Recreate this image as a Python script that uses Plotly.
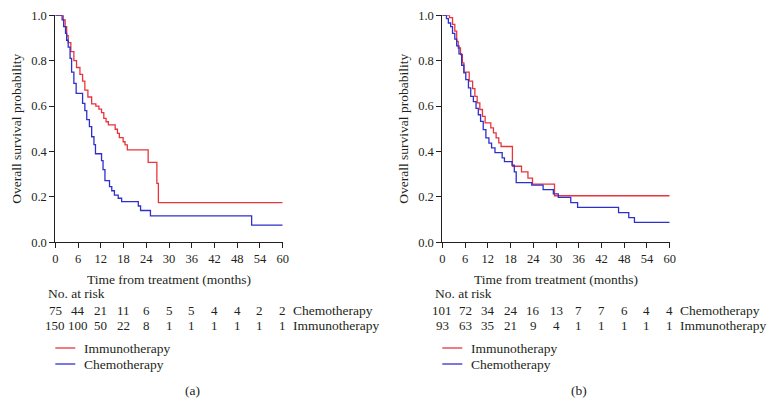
import plotly.graph_objects as go

# ---------------- data ----------------
months_ticks = [0, 6, 12, 18, 24, 30, 36, 42, 48, 54, 60]
surv_ticks = [0.0, 0.2, 0.4, 0.6, 0.8, 1.0]

# Panel (a)
a_immuno_t = [0, 2.1, 2.6, 3.0, 3.4, 4.1, 4.9, 5.6, 6.5, 7.2, 7.8, 8.6, 9.6, 10.7, 11.5, 12.2, 12.8, 13.4,
              14.0, 15.8, 16.4, 16.9, 17.9, 18.4, 19.0, 24.5, 26.8, 27.2, 60]
a_immuno_s = [1.0, 0.98, 0.95, 0.91, 0.88, 0.84, 0.80, 0.77, 0.74, 0.71, 0.67, 0.64, 0.61, 0.60, 0.587, 0.571,
              0.546, 0.531, 0.517, 0.498, 0.48, 0.461, 0.443, 0.429, 0.407, 0.352, 0.26, 0.175, 0.175]
a_chemo_t = [0, 1.8, 2.2, 2.7, 3.0, 3.4, 3.9, 4.3, 4.9, 5.5, 7.2, 7.8, 8.3, 9.0, 9.6, 10.2, 10.6, 12.2, 12.6,
             13.1, 14.3, 14.9, 15.6, 16.6, 17.5, 21.9, 22.5, 25.1, 51.8, 60]
a_chemo_s = [1.0, 0.98, 0.95, 0.92, 0.89, 0.86, 0.81, 0.75, 0.70, 0.656, 0.612, 0.58, 0.54, 0.51, 0.465, 0.43,
             0.39, 0.36, 0.32, 0.272, 0.245, 0.227, 0.208, 0.194, 0.179, 0.16, 0.14, 0.116, 0.076, 0.076]
a_risk_chemo = [75, 44, 21, 11, 6, 5, 5, 4, 4, 2, 2]
a_risk_immuno = [150, 100, 50, 22, 8, 1, 1, 1, 1, 1, 1]

# Panel (b)
b_immuno_t = [0, 1.9, 2.7, 3.3, 3.8, 4.2, 4.8, 5.3, 5.7, 7.1, 8.0, 8.6, 9.2, 9.9, 10.6, 11.3, 12.8, 13.5,
              14.2, 14.9, 15.5, 18.5, 20.9, 22.6, 23.8, 29.6, 60]
b_immuno_s = [1.0, 0.99, 0.96, 0.93, 0.885, 0.856, 0.827, 0.79, 0.75, 0.71, 0.677, 0.643, 0.614, 0.585, 0.555,
              0.526, 0.504, 0.482, 0.46, 0.438, 0.422, 0.335, 0.31, 0.283, 0.256, 0.205, 0.205]
b_chemo_t = [0, 1.1, 1.6, 2.2, 2.7, 3.3, 3.8, 4.4, 5.1, 5.7, 6.2, 6.9, 7.5, 8.2, 8.9, 9.5, 10.1, 10.8, 11.5,
             12.3, 13.0, 13.9, 15.8, 16.4, 18.4, 19.0, 19.5, 23.6, 26.6, 29.3, 30.6, 33.9, 35.7, 46.5, 49.2,
             50.7, 60]
b_chemo_s = [1.0, 0.985, 0.966, 0.95, 0.92, 0.895, 0.865, 0.83, 0.78, 0.746, 0.717, 0.68, 0.643, 0.62, 0.59,
             0.562, 0.533, 0.496, 0.46, 0.437, 0.416, 0.395, 0.372, 0.355, 0.34, 0.31, 0.263, 0.252, 0.232,
             0.213, 0.198, 0.175, 0.154, 0.131, 0.109, 0.088, 0.088]
b_risk_chemo = [101, 72, 34, 24, 16, 13, 7, 7, 6, 4, 4]
b_risk_immuno = [93, 63, 35, 21, 9, 4, 1, 1, 1, 1, 1]

series_names = ["Immunotherapy", "Chemotherapy"]

# ---------------- style ----------------
W, H = 777, 416
RED = "#e8353d"
BLUE = "#2f2fcc"
INK = "#231f20"
SERIF = "Liberation Serif, DejaVu Serif, Times New Roman, serif"

fig = go.Figure()

def add_panel(tI, sI, tC, sC, xa, ya):
    fig.add_trace(go.Scatter(x=tI, y=sI, mode="lines", line=dict(color=RED, width=1.3, shape="hv"),
                             name=series_names[0], xaxis=xa, yaxis=ya, showlegend=False, hoverinfo="skip"))
    fig.add_trace(go.Scatter(x=tC, y=sC, mode="lines", line=dict(color=BLUE, width=1.3, shape="hv"),
                             name=series_names[1], xaxis=xa, yaxis=ya, showlegend=False, hoverinfo="skip"))

add_panel(a_immuno_t, a_immuno_s, a_chemo_t, a_chemo_s, "x", "y")
add_panel(b_immuno_t, b_immuno_s, b_chemo_t, b_chemo_s, "x2", "y2")

ydom = [1 - 242.3 / H, 1 - 15.3 / H]
xdomA = [55.3 / W, 282.7 / W]
xdomB = [442.3 / W, 669.7 / W]

axis_common = dict(showline=True, linecolor=INK, linewidth=1, ticks="outside", ticklen=5, tickcolor=INK,
                   tickwidth=1, showgrid=False, zeroline=False, automargin=False,
                   tickfont=dict(family=SERIF, size=12.5, color=INK))

xcfg = dict(axis_common, range=[0, 60], tickmode="array", tickvals=months_ticks,
            title=dict(text="Time from treatment (months)", font=dict(family=SERIF, size=13.5, color=INK), standoff=9))
ycfg = dict(axis_common, range=[0, 1], tickmode="array", tickvals=surv_ticks, tickformat=".1f",
            title=dict(text="Overall survival probability", font=dict(family=SERIF, size=13.5, color=INK), standoff=6))

fig.update_layout(
    width=W, height=H, margin=dict(l=0, r=0, t=0, b=0),
    paper_bgcolor="white", plot_bgcolor="white",
    font=dict(family=SERIF, color=INK, size=13.5),
    showlegend=False,
    xaxis=dict(xcfg, domain=xdomA, anchor="y"),
    yaxis=dict(ycfg, domain=ydom, anchor="x"),
    xaxis2=dict(xcfg, domain=xdomB, anchor="y2"),
    yaxis2=dict(ycfg, domain=ydom, anchor="x2"),
)

annotations = []
shapes = []
TXT = dict(family=SERIF, size=13.5, color=INK)
NUM = dict(family=SERIF, size=13, color=INK)

def risk_table(xref, xdom, risk_c, risk_i, noatrisk_x, label):
    annotations.append(dict(text="No. at risk", xref="paper", yref="paper", x=noatrisk_x, y=1 - 293 / H,
                            xanchor="left", yanchor="middle", showarrow=False, font=TXT))
    for row_y, vals, name in [(310, risk_c, "Chemotherapy"), (325, risk_i, "Immunotherapy")]:
        for m, v in zip(months_ticks, vals):
            annotations.append(dict(text=str(v), xref=xref, yref="paper", x=m, y=1 - row_y / H,
                                    xanchor="center", yanchor="middle", showarrow=False, font=NUM))
        annotations.append(dict(text=name, xref=xref, yref="paper", x=months_ticks[-1], xshift=8,
                                y=1 - row_y / H, xanchor="left", yanchor="middle", showarrow=False, font=TXT))
    # legend (line sample + label)
    x0 = xdom[0]
    for (ly, col, nm) in [(348, RED, series_names[0]), (364, BLUE, series_names[1])]:
        shapes.append(dict(type="line", xref="paper", yref="paper", x0=x0, x1=x0 + 20 / W,
                           y0=1 - ly / H, y1=1 - ly / H, line=dict(color=col, width=1.3)))
        annotations.append(dict(text=nm, xref="paper", yref="paper", x=x0 + 27 / W, y=1 - ly / H,
                                xanchor="left", yanchor="middle", showarrow=False, font=TXT))
    annotations.append(dict(text=label, xref="paper", yref="paper", x=(xdom[0] + xdom[1]) / 2 + 23 / W,
                            y=1 - 390 / H, xanchor="center", yanchor="middle", showarrow=False, font=TXT))

risk_table("x", xdomA, a_risk_chemo, a_risk_immuno, 46 / W, "(a)")
risk_table("x2", xdomB, b_risk_chemo, b_risk_immuno, 433 / W, "(b)")

fig.update_layout(annotations=annotations, shapes=shapes)
fig.write_html("out.html", config={"displayModeBar": False},
               post_script="document.body.style.margin='0px';document.body.style.padding='0px';")
